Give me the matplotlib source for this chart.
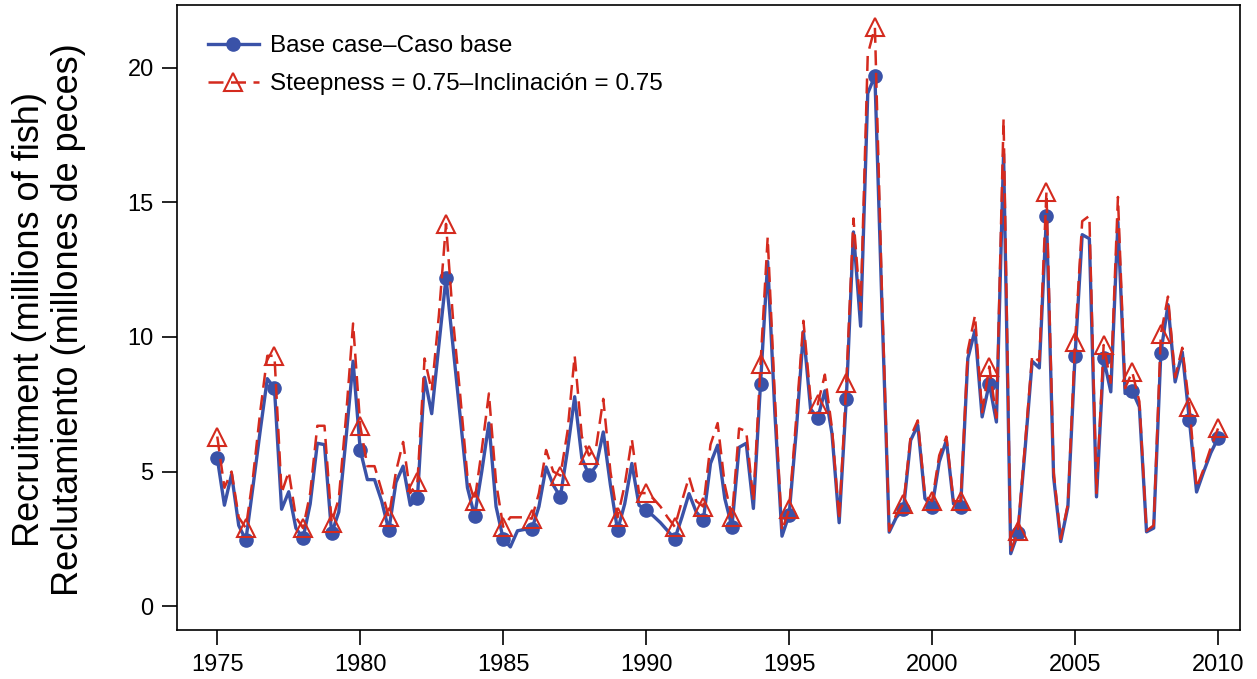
import numpy as np
import matplotlib.pyplot as plt
from matplotlib import font_manager

# quarterly recruitment, 1975 Q1 .. 2010 Q1
years = np.arange(1975, 2010.01, 0.25)

base_case = [
    5.5, 3.75, 4.9, 3.0,
    2.45, 4.45, 6.5, 8.45,
    8.1, 3.6, 4.25, 2.9,
    2.52, 3.8, 6.05, 6.0,
    2.7, 3.5, 6.2, 9.1,
    5.8, 4.7, 4.7, 3.9,
    2.82, 4.6, 5.2, 3.75,
    4.0, 8.5, 7.15, 9.7,
    12.2, 9.6, 7.0, 4.4,
    3.35, 5.0, 6.8, 3.7,
    2.5, 2.2, 2.8, 2.85,
    2.85, 3.7, 5.17, 4.5,
    4.06, 5.8, 7.78, 5.5,
    4.87, 5.2, 6.47, 4.5,
    2.82, 3.8, 5.3, 3.75,
    3.56, 3.35, 3.1, 2.8,
    2.5, 3.3, 4.18, 3.5,
    3.2, 5.3, 5.98, 4.0,
    2.95, 5.9, 6.05, 3.63,
    8.27, 12.8, 7.2, 2.6,
    3.4, 6.5, 10.2, 7.33,
    6.98, 8.0, 6.4, 3.1,
    7.7, 13.9, 10.4, 19.05,
    19.7, 11.0, 2.75, 3.3,
    3.6, 6.16, 6.72, 4.0,
    3.69, 5.36, 6.16, 3.8,
    3.7, 9.2, 10.25, 7.03,
    8.27, 6.84, 16.8, 1.95,
    2.7, 5.8, 9.1, 8.85,
    14.5, 4.8, 2.4, 3.7,
    9.3, 13.8, 13.65, 4.06,
    9.2, 7.96, 14.27, 7.9,
    8.0, 7.4, 2.76, 2.9,
    9.4, 11.2, 8.33, 9.44,
    6.9, 4.24, 5.0, 5.7,
    6.24,
]

steepness_075 = [
    6.3, 4.4, 5.0, 3.3,
    2.9, 4.8, 7.2, 9.3,
    9.3, 4.2, 5.0, 3.3,
    2.9, 4.2, 6.7, 6.7,
    3.1, 4.0, 7.0, 10.5,
    6.7, 5.2, 5.2, 4.3,
    3.3, 5.0, 6.1, 4.2,
    4.6, 9.2, 8.0, 10.8,
    14.2, 10.6, 7.8, 4.8,
    3.9, 5.8, 7.9, 4.6,
    2.95, 3.3, 3.3, 3.3,
    3.25, 4.2, 5.8, 5.0,
    4.85, 6.5, 9.3, 6.3,
    5.6, 5.9, 7.7, 5.0,
    3.3, 4.5, 6.2, 4.2,
    4.2, 4.0, 3.7, 3.3,
    2.95, 3.9, 4.8, 3.9,
    3.7, 6.0, 6.8, 4.5,
    3.3, 6.6, 6.5, 3.9,
    9.0, 13.7, 7.8, 2.8,
    3.6, 7.0, 10.6, 7.7,
    7.5, 8.6, 6.6, 3.2,
    8.3, 14.4, 11.0, 20.5,
    21.5, 11.5, 2.8, 3.4,
    3.8, 6.3, 6.9, 4.1,
    3.9, 5.6, 6.3, 3.9,
    3.9, 9.5, 10.8, 7.2,
    8.9, 7.0, 18.1, 2.0,
    2.8, 6.0, 9.3, 9.1,
    15.4, 5.0, 2.5, 3.8,
    9.8, 14.3, 14.5, 4.2,
    9.7, 8.3, 15.2, 8.1,
    8.7, 7.6, 2.8, 3.0,
    10.1, 11.5, 8.5, 9.6,
    7.4, 4.4, 5.1, 5.9,
    6.6,
]

year_ticks = [1975, 1980, 1985, 1990, 1995, 2000, 2005, 2010]
value_ticks = [0, 5, 10, 15, 20]

names = {f.name for f in font_manager.fontManager.ttflist}
narrow = 'Liberation Sans Narrow' if 'Liberation Sans Narrow' in names else 'Liberation Sans'
plt.rcParams['font.family'] = ['Liberation Sans', 'DejaVu Sans']

blue = '#3a52a8'
red = '#d42a1e'

fig = plt.figure(figsize=(12.57, 6.79), dpi=100)
ax = fig.add_axes([0.141, 0.072, 0.8455, 0.921])

ax.plot(years, base_case, color=blue, lw=2.4, marker='o', markevery=4,
        markersize=9.5, markerfacecolor=blue, markeredgecolor=blue,
        label='Base case\u2013Caso base', zorder=3)
ax.plot(years, steepness_075, color=red, lw=1.8, ls=(0, (6, 3)), marker='^',
        markevery=4, markersize=13, markerfacecolor='none', markeredgecolor=red,
        markeredgewidth=1.5, label='Steepness = 0.75\u2013Inclinaci\u00f3n = 0.75',
        zorder=4)

ax.set_xlim(1973.6, 2010.77)
ax.set_ylim(-0.89, 22.34)
ax.set_xticks(year_ticks)
ax.set_yticks(value_ticks)
ax.tick_params(axis='both', direction='out', length=11, width=1.2,
               labelsize=17, pad=6)
for lab in ax.get_xticklabels() + ax.get_yticklabels():
    lab.set_family([narrow, 'DejaVu Sans'])
for s in ax.spines.values():
    s.set_linewidth(1.2)

ax.set_ylabel('Recruitment (millions of fish)\nReclutamiento (millones de peces)',
              fontsize=26, linespacing=1.15)
ax.yaxis.set_label_coords(-0.086, 0.496)

ax.legend(loc='upper left', frameon=False, fontsize=17.5, handlelength=2.1,
          handletextpad=0.45, borderaxespad=0.85, labelspacing=0.66)

fig.savefig('out.png', dpi=100)
